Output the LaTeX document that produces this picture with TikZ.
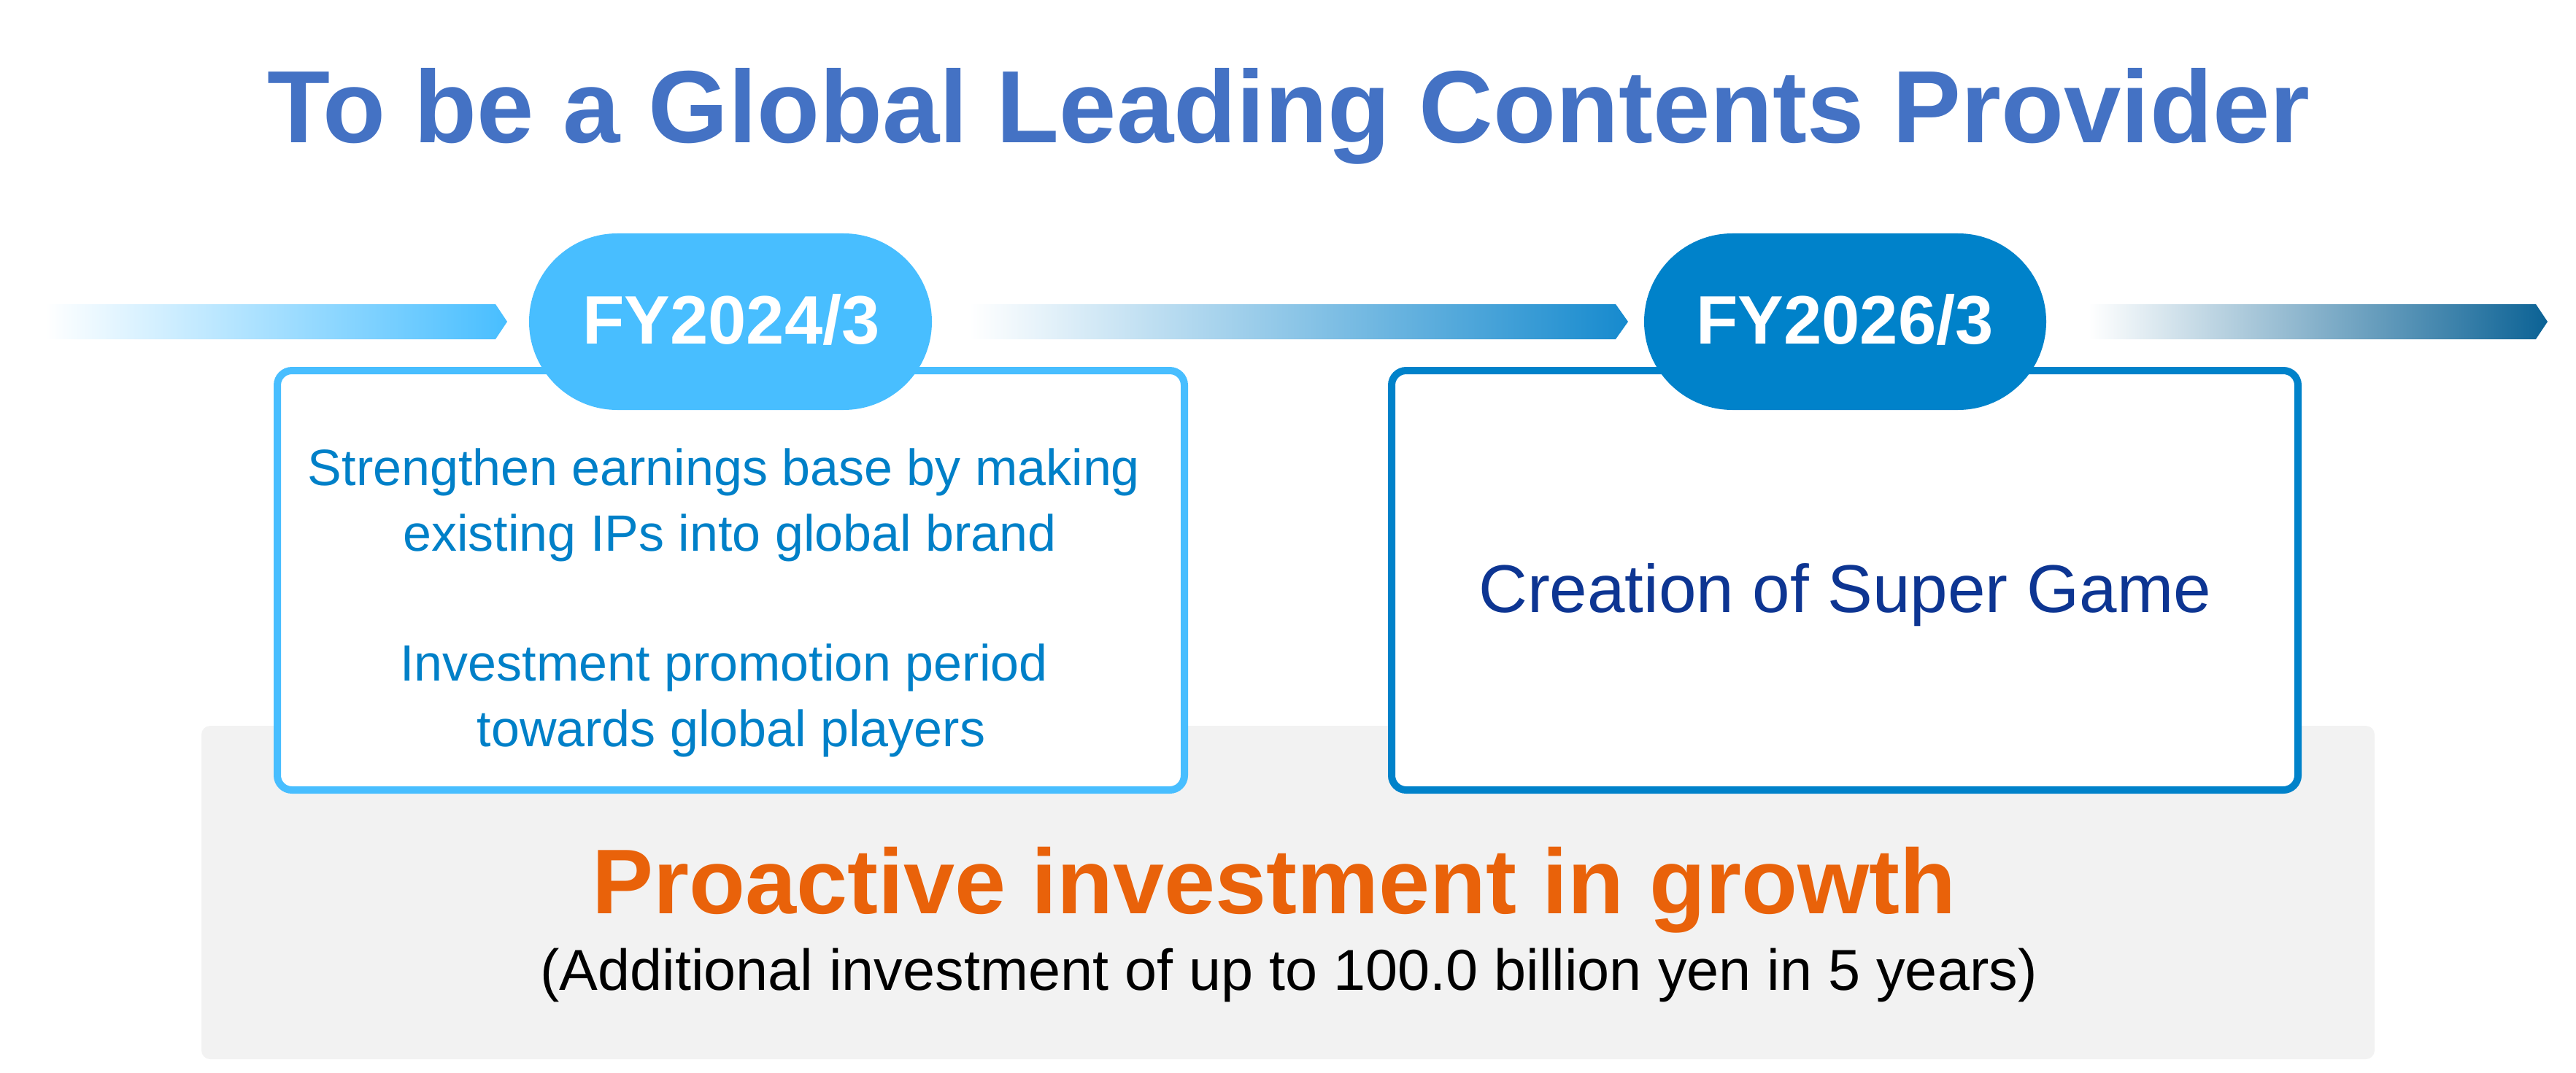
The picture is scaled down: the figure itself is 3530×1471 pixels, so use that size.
\documentclass[tikz,border=0pt]{standalone}
\usepackage{fontspec}
\setmainfont{Liberation Sans}
\definecolor{titleblue}{HTML}{4472C4}
\definecolor{lightblue}{HTML}{48BEFF}
\definecolor{midblue}{HTML}{0082CA}
\definecolor{band2}{RGB}{22,138,206}
\definecolor{band3}{HTML}{0B6295}
\definecolor{boxtext}{HTML}{0080C8}
\definecolor{navy}{HTML}{0D3592}
\definecolor{orange}{HTML}{E9620A}
\definecolor{bggray}{HTML}{F2F2F2}
\begin{document}
\begin{tikzpicture}[x=0.5pt,y=-0.5pt,
  band/.style={draw=none},
  pill/.style={rounded corners=60.5pt},
  framebox/.style={line width=5pt, fill=white, rounded corners=10pt},
  txt/.style={inner sep=0pt, anchor=base}]
\useasboundingbox (0,0) rectangle (3530,1471);
% background panel
\fill[bggray, rounded corners=6pt] (276,995) rectangle (3254,1452);
% arrow bands
\shade[band, left color=white, right color=lightblue]
  (62,417) -- (679,417) -- (695,441) -- (679,465) -- (62,465) -- cycle;
\shade[band, left color=white, right color=band2]
  (1329,417) -- (2214,417) -- (2231,441) -- (2214,465) -- (1329,465) -- cycle;
\shade[band, left color=white, right color=band3]
  (2862,417) -- (3475,417) -- (3491,441) -- (3475,465) -- (2862,465) -- cycle;
% boxes
\draw[framebox, draw=lightblue] (380,508) rectangle (1623,1083);
\draw[framebox, draw=midblue] (1907,508) rectangle (3149,1083);
% pills
\fill[pill, lightblue] (725,320) rectangle (1277,562);
\fill[pill, midblue] (2253,320) rectangle (2804,562);
% texts
\node[txt, text=titleblue, font=\fontsize{70.4}{84}\selectfont\bfseries] (title) at (1766,196) {To be a Global Leading Contents Provider};
\node[txt, text=white, font=\fontsize{47}{56}\selectfont\bfseries] (fy1) at (1002,471) {FY2024/3};
\node[txt, text=white, font=\fontsize{47}{56}\selectfont\bfseries] (fy2) at (2528,471) {FY2026/3};
\node[txt, text=boxtext, font=\fontsize{35}{45}\selectfont] (l1) at (992,665) {Strengthen earnings base by making};
\node[txt, text=boxtext, font=\fontsize{35}{45}\selectfont] (l2) at (1000,755) {existing IPs into global brand};
\node[txt, text=boxtext, font=\fontsize{35}{45}\selectfont] (l3) at (992,933) {Investment promotion period};
\node[txt, text=boxtext, font=\fontsize{35}{45}\selectfont] (l4) at (1002,1023) {towards global players};
\node[txt, text=navy, font=\fontsize{46.3}{55}\selectfont] (r1) at (2528,839) {Creation of Super Game};
\node[txt, text=orange, font=\fontsize{63}{76}\selectfont\bfseries] (inv) at (1746,1252) {Proactive investment in growth};
\node[txt, text=black, font=\fontsize{39.6}{48}\selectfont] (inv2) at (1766,1357) {(Additional investment of up to 100.0 billion yen in 5 years)};
\end{tikzpicture}
\end{document}
